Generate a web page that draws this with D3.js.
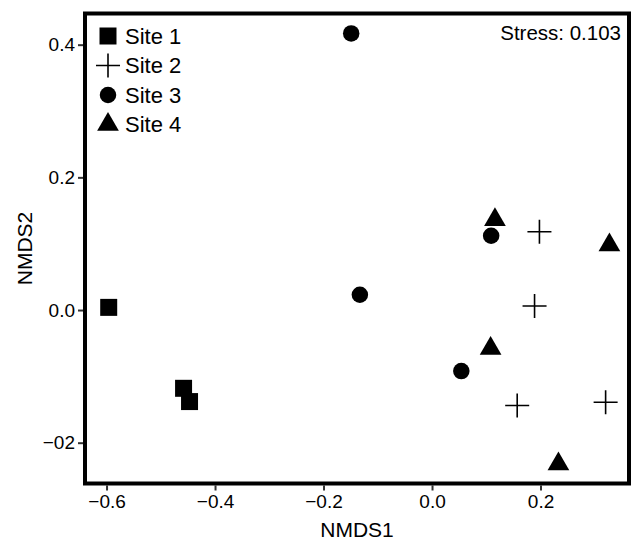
<!DOCTYPE html>
<html lang="en">
<head>
<meta charset="UTF-8">
<title>NMDS ordination</title>
<script src="https://d3js.org/d3.v7.min.js"></script>
<style>
  body { margin: 0; padding: 0; background: #ffffff; }
  svg { display: block; font-family: "Liberation Sans", Arial, Helvetica, sans-serif; }
  .tick text { fill: #000; }
</style>
</head>
<body>
<div id="chart"></div>
<script>
// ---- data ----
const sites = ["Site 1", "Site 2", "Site 3", "Site 4"];
const site1 = [[-0.596, 0.004], [-0.458, -0.118], [-0.447, -0.138]];
const site2 = [[0.198, 0.118], [0.189, 0.006], [0.157, -0.144], [0.320, -0.139]];
const site3 = [[-0.149, 0.417], [-0.133, 0.023], [0.054, -0.092], [0.109, 0.112]];
const site4 = [[0.116, 0.136], [0.327, 0.098], [0.108, -0.058], [0.233, -0.232]];
const xTicks = [-0.6, -0.4, -0.2, 0.0, 0.2];
const xTickLabels = ["\u22120.6", "\u22120.4", "\u22120.2", "0.0", "0.2"];
const yTicks = [-0.2, 0.0, 0.2, 0.4];
const yTickLabels = ["\u221202", "0.0", "0.2", "0.4"];
const stressLabel = "Stress: 0.103";

const width = 636, height = 547;
const plotL = 85, plotR = 629, plotT = 13.5, plotB = 483.5;

const x = d3.scaleLinear().domain([-0.6397, 0.3631]).range([plotL, plotR]);
const y = d3.scaleLinear().domain([-0.2615, 0.4470]).range([plotB, plotT]);

const svg = d3.select("#chart").append("svg")
    .attr("width", width)
    .attr("height", height);

// symbol per site (square, plus, circle, triangle)
const plusType = d3.symbolPlus || {
  draw(ctx, size) {
    const r = Math.sqrt(size) * 0.87;
    ctx.moveTo(-r, 0); ctx.lineTo(r, 0);
    ctx.moveTo(0, r); ctx.lineTo(0, -r);
  }
};
const shapes = [
  { type: d3.symbolSquare, size: 289, fill: true },
  { type: plusType, size: 190, fill: false },
  { type: d3.symbolCircle, size: 214, fill: true },
  { type: d3.symbolTriangle, size: 204, fill: true }
];
const series = [site1, site2, site3, site4];

function drawSymbol(g, k) {
  const s = shapes[k];
  g.append("path")
    .attr("d", d3.symbol().type(s.type).size(s.size)())
    .attr("fill", s.fill ? "#000" : "none")
    .attr("stroke", s.fill ? "none" : "#000")
    .attr("stroke-width", s.fill ? 0 : 1.6);
}

// axes
const xAxis = svg.append("g")
    .attr("transform", `translate(0,${plotB + 2})`)
    .call(d3.axisBottom(x).tickValues(xTicks).tickSize(5).tickPadding(4)
      .tickFormat((d, i) => xTickLabels[i]));
const yAxis = svg.append("g")
    .attr("transform", `translate(${plotL - 2},0)`)
    .call(d3.axisLeft(y).tickValues(yTicks).tickSize(5).tickPadding(3)
      .tickFormat((d, i) => yTickLabels[i]));
[xAxis, yAxis].forEach(a => {
  a.select(".domain").remove();
  a.selectAll(".tick line").attr("stroke", "#333").attr("stroke-width", 2);
  a.selectAll(".tick text").attr("font-size", 19).attr("font-family", null);
});

// points
series.forEach((pts, k) => {
  pts.forEach(p => {
    const g = svg.append("g").attr("transform", `translate(${x(p[0])},${y(p[1])})`);
    drawSymbol(g, k);
  });
});

// frame
svg.append("rect")
    .attr("x", plotL).attr("y", plotT)
    .attr("width", plotR - plotL).attr("height", plotB - plotT)
    .attr("fill", "none").attr("stroke", "#000").attr("stroke-width", 4);

// legend
sites.forEach((name, k) => {
  const g = svg.append("g").attr("transform", `translate(108,${36 + k * 29.5})`);
  drawSymbol(g, k);
  g.append("text")
    .attr("x", 17).attr("y", 0).attr("dy", "0.36em")
    .attr("font-size", 22)
    .text(name);
});

// stress
svg.append("text")
    .attr("x", 621).attr("y", 39.5)
    .attr("text-anchor", "end")
    .attr("font-size", 20.5)
    .text(stressLabel);

// axis titles
svg.append("text")
    .attr("x", (plotL + plotR) / 2).attr("y", 537)
    .attr("text-anchor", "middle")
    .attr("font-size", 21)
    .text("NMDS1");
svg.append("text")
    .attr("transform", `translate(32,${(plotT + plotB) / 2}) rotate(-90)`)
    .attr("text-anchor", "middle")
    .attr("font-size", 21)
    .text("NMDS2");
</script>
</body>
</html>
